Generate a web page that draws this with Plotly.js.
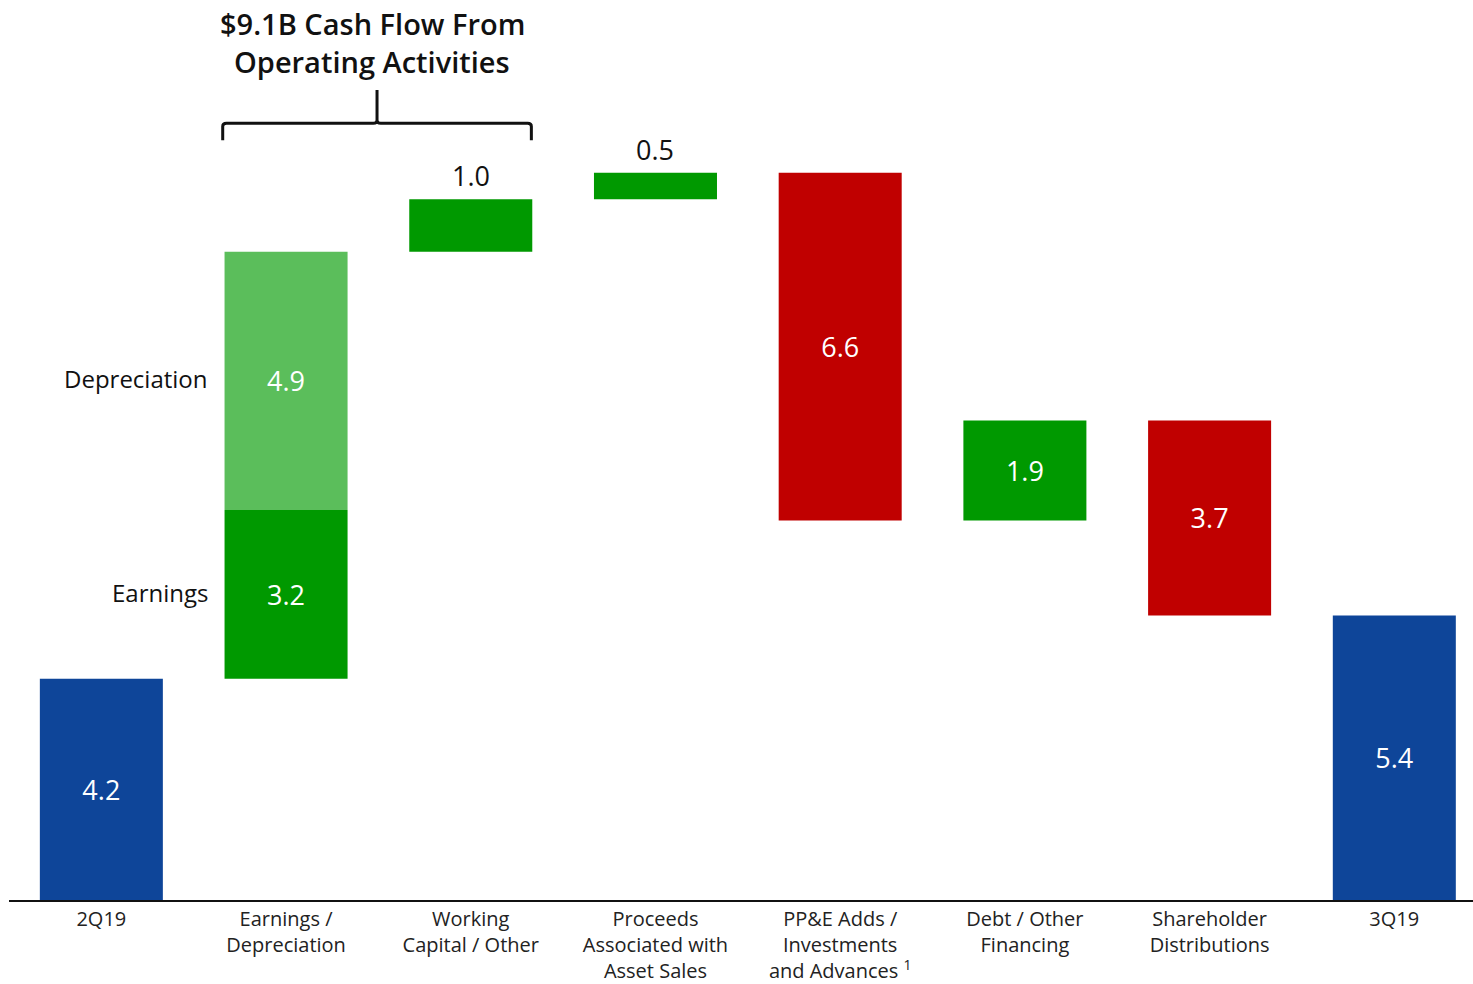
<!DOCTYPE html>
<html>
<head>
<meta charset="utf-8">
<script src="https://cdn.plot.ly/plotly-3.0.1.min.js"></script>
<style>html,body{margin:0;padding:0;background:#fff;}#chart{width:1473px;height:984px;}</style>
</head>
<body>
<div id="chart"></div>
<script>
// ---- data ----
const categories = ['2Q19', 'Earnings /<br>Depreciation', 'Working<br>Capital / Other',
  'Proceeds<br>Associated with<br>Asset Sales', 'PP&E Adds /<br>Investments<br>and Advances <sup>1</sup>',
  'Debt / Other<br>Financing', 'Shareholder<br>Distributions', '3Q19'];
const startValue = 4.2;      // 2Q19 cash
const endValue = 5.4;        // 3Q19 cash
const stepNames = ['Earnings', 'Depreciation', 'Working Capital / Other', 'Proceeds Associated with Asset Sales',
  'PP&E Adds / Investments and Advances', 'Debt / Other Financing', 'Shareholder Distributions'];
const stepPositions = [1, 1, 2, 3, 4, 5, 6];
const stepValues = [3.2, 4.9, 1.0, 0.5, -6.6, 1.9, -3.7];
const titleLines = ['$9.1B Cash Flow From', 'Operating Activities'];

// ---- build traces ----
const BLUE = '#0E4599', GREEN = '#009900', LIGHTGREEN = '#5BBE5B', RED = '#C00000';
const font = '"Open Sans", Lato, sans-serif';
const barWidth = 0.666;

const traces = [];
traces.push({
  type: 'bar', x: [0, 7], y: [startValue, endValue], base: [0, 0], width: barWidth,
  marker: {color: BLUE}, text: [startValue.toFixed(1), endValue.toFixed(1)],
  textposition: 'inside', insidetextanchor: 'middle', textangle: 0,
  textfont: {family: font, size: 27, color: '#fff'}, hoverinfo: 'skip', showlegend: false
});

let cum = startValue;
const segments = [];
stepValues.forEach((v, i) => {
  const base = cum;
  cum += v;
  segments.push({pos: stepPositions[i], base: base, v: v, name: stepNames[i]});
});
segments.forEach((s, i) => {
  const small = Math.abs(s.v) < 1.5;
  let color = s.v >= 0 ? GREEN : RED;
  if (s.name === 'Depreciation') color = LIGHTGREEN;
  const tr = {
    type: 'bar', x: [s.pos], y: [s.v], base: [s.base], width: barWidth, name: s.name,
    marker: {color: color}, hoverinfo: 'skip', showlegend: false
  };
  if (!small) {
    tr.text = [Math.abs(s.v).toFixed(1)];
    tr.textposition = 'inside';
    tr.insidetextanchor = 'middle';
    tr.textangle = 0;
    tr.textfont = {family: font, size: 27, color: '#fff'};
  } else {
    tr.textposition = 'none';
  }
  traces.push(tr);
});

const annotations = [];
// labels above small bars
segments.filter(s => Math.abs(s.v) < 1.5).forEach(s => {
  annotations.push({
    x: s.pos, y: s.base + s.v, xref: 'x', yref: 'y', xanchor: 'center', yanchor: 'bottom',
    yshift: 3, showarrow: false, text: Math.abs(s.v).toFixed(1),
    font: {family: font, size: 27, color: '#111'}
  });
});
// side labels for stacked segments
segments.filter(s => s.name === 'Earnings' || s.name === 'Depreciation').forEach(s => {
  annotations.push({
    x: s.pos - barWidth / 2, y: s.base + s.v / 2, xref: 'x', yref: 'y',
    xanchor: 'right', yanchor: 'middle', xshift: -15, yshift: 2, showarrow: false,
    text: s.name, font: {family: font, size: 24, color: '#111'}
  });
});

// brace over operating activities (Earnings/Depreciation + Working Capital)
const bx0 = 1 - barWidth / 2 - 0.01, bx1 = 2 + barWidth / 2 - 0.005, bxm = (bx0 + bx1) / 2;
const yLine = 14.74, yEnd = 14.42, yTip = 15.37, r = 0.06, rx = 0.02;
const bracePath = `M ${bx0},${yEnd} L ${bx0},${yLine - r} Q ${bx0},${yLine} ${bx0 + rx},${yLine}` +
  ` L ${bxm - rx},${yLine} Q ${bxm},${yLine} ${bxm},${yLine + r} L ${bxm},${yTip}` +
  ` M ${bxm},${yLine + r} Q ${bxm},${yLine} ${bxm + rx},${yLine} L ${bx1 - rx},${yLine}` +
  ` Q ${bx1},${yLine} ${bx1},${yLine - r} L ${bx1},${yEnd}`;

titleLines.forEach((t, i) => {
  annotations.push({
    x: bxm - 0.025, y: 1 - (23 + i * 38) / 900, xref: 'x', yref: 'paper',
    xanchor: 'center', yanchor: 'middle', showarrow: false,
    text: t, font: {family: font, size: 29, weight: 600, color: '#111'}
  });
});

const layout = {
  width: 1473, height: 984,
  margin: {l: 9, r: 0, t: 0, b: 84},
  paper_bgcolor: '#fff', plot_bgcolor: '#fff',
  barmode: 'overlay',
  font: {family: font, color: '#222'},
  xaxis: {
    type: 'linear', range: [-0.5, 7.426], tickmode: 'array',
    tickvals: categories.map((c, i) => i), ticktext: categories,
    showgrid: false, zeroline: false, showline: true, linecolor: '#111', linewidth: 2,
    ticks: '', tickfont: {family: font, size: 20, color: '#222'}, fixedrange: true
  },
  yaxis: {
    range: [0, 17.08], visible: false, showgrid: false, zeroline: false, fixedrange: true
  },
  shapes: [{
    type: 'path', xref: 'x', yref: 'y', path: bracePath,
    line: {color: '#111', width: 3}
  }],
  annotations: annotations
};

Plotly.newPlot('chart', traces, layout, {displayModeBar: false, staticPlot: true});
</script>
</body>
</html>
